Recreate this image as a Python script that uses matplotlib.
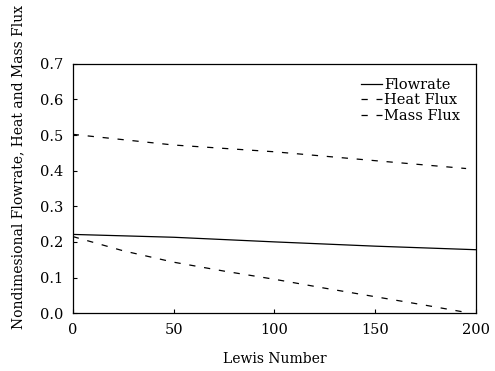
import matplotlib
matplotlib.use("Agg")
import matplotlib.pyplot as plt

flowrate_x = [0, 50, 100, 150, 200]
flowrate = [0.221, 0.213, 0.200, 0.188, 0.178]
heat_x = [0, 50, 100, 150, 195]
heat = [0.502, 0.472, 0.453, 0.428, 0.406]
mass_x = [0, 25, 50, 75, 100, 125, 150, 175, 197]
mass = [0.215, 0.175, 0.143, 0.118, 0.095, 0.070, 0.046, 0.022, 0.0]

xticks = [0, 50, 100, 150, 200]
yticks = [0.0, 0.1, 0.2, 0.3, 0.4, 0.5, 0.6, 0.7]

plt.rcParams['font.family'] = ['DejaVu Serif']
fig = plt.figure(figsize=(4.95, 3.71), dpi=100)
ax = fig.add_axes([0.147, 0.156, 0.815, 0.672])

ax.plot(flowrate_x, flowrate, color='black', lw=0.9, label='Flowrate')
ax.plot(heat_x, heat, color='black', lw=0.9, dashes=(5, 7), label='Heat Flux')
ax.plot(mass_x, mass, color='black', lw=0.9, dashes=(5, 7), label='Mass Flux')

ax.set_xlim(0, 200)
ax.set_ylim(0, 0.7)
ax.set_xticks(xticks)
ax.set_yticks(yticks)
ax.set_xticklabels([str(t) for t in xticks])
ax.set_yticklabels([f"{t:.1f}" for t in yticks])
ax.tick_params(direction='in', length=3, labelsize=10.5, width=0.8)
ax.tick_params(axis='y', pad=7)
ax.tick_params(axis='x', pad=7)
for s in ax.spines.values():
    s.set_linewidth(0.9)

ax.set_xlabel('Lewis Number', fontsize=10, labelpad=11)
fig.text(0.036, 0.55, 'Nondimesional Flowrate, Heat and Mass Flux', rotation=90,
         ha='center', va='center', fontsize=10)

leg = ax.legend(loc='upper right', frameon=False, fontsize=10.5, handlelength=1.4,
                handletextpad=0.15, labelspacing=0.1, borderaxespad=0.3,
                bbox_to_anchor=(0.985, 0.985))

fig.savefig('out.png', dpi=100)
